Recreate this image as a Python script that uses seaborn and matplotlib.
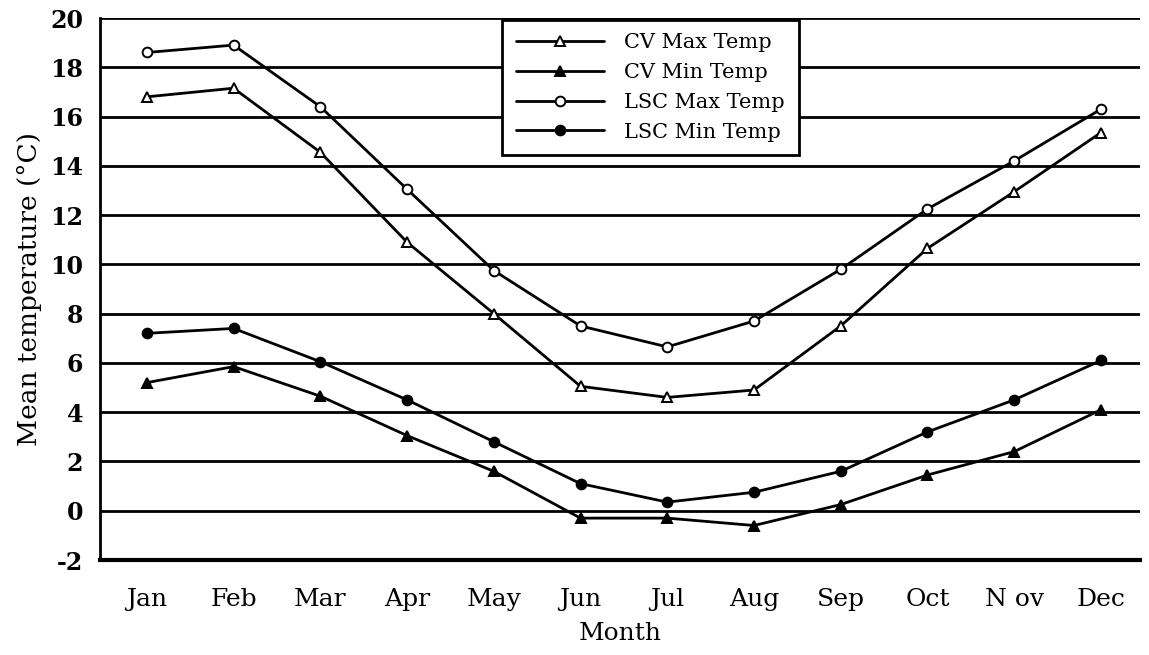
import matplotlib
matplotlib.use("Agg")
import matplotlib.pyplot as plt
import seaborn as sns
import pandas as pd

months = ["Jan", "Feb", "Mar", "Apr", "May", "Jun", "Jul", "Aug", "Sep", "Oct", "N ov", "Dec"]
cv_max = [16.8, 17.15, 14.55, 10.9, 8.0, 5.05, 4.6, 4.9, 7.5, 10.65, 12.95, 15.35]
cv_min = [5.2, 5.85, 4.65, 3.05, 1.6, -0.3, -0.3, -0.6, 0.25, 1.45, 2.4, 4.1]
lsc_max = [18.6, 18.9, 16.4, 13.05, 9.75, 7.5, 6.65, 7.7, 9.8, 12.25, 14.2, 16.3]
lsc_min = [7.2, 7.4, 6.05, 4.5, 2.8, 1.1, 0.35, 0.75, 1.6, 3.2, 4.5, 6.1]
yticks = list(range(-2, 21, 2))

series = [
    ("CV Max Temp", cv_max, "^", "white"),
    ("CV Min Temp", cv_min, "^", "black"),
    ("LSC Max Temp", lsc_max, "o", "white"),
    ("LSC Min Temp", lsc_min, "o", "black"),
]

sns.set_theme(style="white")
plt.rcParams['font.family'] = ['DejaVu Serif', 'DejaVu Sans']
plt.rcParams['text.color'] = 'black'
plt.rcParams['axes.labelcolor'] = 'black'
plt.rcParams['xtick.color'] = 'black'
plt.rcParams['ytick.color'] = 'black'

fig = plt.figure(figsize=(11.49, 6.55), dpi=100)
ax = fig.add_axes([100/1149, (655-560)/655, 1040/1149, 542/655])

for name, vals, mk, fc in series:
    df = pd.DataFrame({"x": range(len(months)), "y": vals})
    sns.lineplot(data=df, x="x", y="y", ax=ax, color="black", linewidth=2,
                 marker=mk, markersize=7, markerfacecolor=fc,
                 markeredgecolor="black", markeredgewidth=1.4, label=name)

for v in yticks:
    ax.axhline(v, color="black", linewidth=2, zorder=0)

ax.set_xlim(-0.54, 11.45)
ax.set_ylim(-2, 20)
ax.set_xticks(range(len(months)))
ax.set_xticklabels(months, fontsize=18)
ax.set_yticks(yticks)
ax.set_yticklabels([str(v) for v in yticks], fontsize=17, fontweight="bold")
ax.tick_params(axis="y", direction="out", length=8, width=2, pad=4)
ax.tick_params(axis="x", direction="out", length=6, width=2, pad=14)
for s in ["top", "right"]:
    ax.spines[s].set_visible(False)
ax.spines["left"].set_linewidth(2)
ax.spines["bottom"].set_linewidth(3)
ax.spines["left"].set_color("black")
ax.spines["bottom"].set_color("black")

ax.set_xlabel("Month", fontsize=18, labelpad=8)
ax.set_ylabel("Mean temperature (°C)", fontsize=19, labelpad=6)

leg = ax.legend(loc="upper left", bbox_to_anchor=(0.387, 0.997), frameon=True,
                fancybox=False, fontsize=15, handlelength=4.2, borderpad=0.65,
                labelspacing=0.52, handletextpad=1.0, borderaxespad=0)
leg.get_frame().set_edgecolor("black")
leg.get_frame().set_linewidth(2)
leg.get_frame().set_facecolor("white")
leg.get_frame().set_alpha(1)

fig.savefig("out.png", dpi=100)
